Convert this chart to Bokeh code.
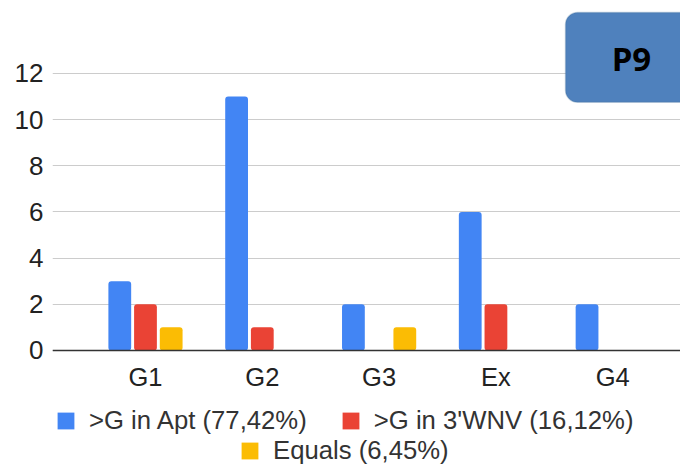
import numpy as np
from bokeh.plotting import figure
from bokeh.models import (Range1d, FixedTicker, Legend, LegendItem, Span,
                          BoxAnnotation, Label, ColumnDataSource)
from bokeh.core.properties import value
from bokeh.embed import file_html
from bokeh.resources import INLINE

# ---- data ----
categories = ["G1", "G2", "G3", "Ex", "G4"]
apt_values = [3, 11, 2, 6, 2]
wnv_values = [2, 1, 0, 2, 0]
equal_values = [1, 0, 1, 0, 0]
series_labels = [">G in Apt (77,42%)", ">G in 3'WNV (16,12%)", "Equals (6,45%)"]
y_ticks = [0, 2, 4, 6, 8, 10, 12]
badge_text = "P9"

colors = ["#4285F4", "#EA4335", "#FBBC04"]
FONT = "Liberation Sans"

idx = np.arange(len(categories))
offsets = [-0.22, 0.0, 0.22]
bar_w = 0.195

p = figure(width=680, height=466, output_backend="svg", toolbar_location=None,
           x_range=Range1d(-0.796, 4.58), y_range=Range1d(-5.03, 15.16),
           x_axis_location=None,
           min_border_left=52, min_border_right=0, min_border_top=0,
           min_border_bottom=0)
p.outline_line_color = None
p.background_fill_color = "white"
p.border_fill_color = "white"

renderers = []
for vals, off, col in zip([apt_values, wnv_values, equal_values], offsets, colors):
    r = p.vbar(x=idx + off, top=vals, width=bar_w, fill_color=col,
               line_color=None, border_radius=3)
    renderers.append(r)

# category labels along the zero baseline
cat_src = ColumnDataSource(dict(x=idx, y=[0] * len(categories), text=categories))
p.text(x="x", y="y", text="text", source=cat_src, text_align="center",
       text_baseline="middle", y_offset=27, text_font=value(FONT),
       text_font_size="25.5px", text_color="#222222")

# y axis
p.yaxis.ticker = FixedTicker(ticks=y_ticks)
p.yaxis.axis_line_color = None
p.yaxis.major_tick_line_color = None
p.yaxis.minor_tick_line_color = None
p.yaxis.major_label_text_font = FONT
p.yaxis.major_label_text_font_size = "26px"
p.yaxis.major_label_text_color = "#222222"
p.yaxis.major_label_standoff = 3

p.xgrid.grid_line_color = None
p.ygrid.ticker = FixedTicker(ticks=y_ticks)
p.ygrid.grid_line_color = "#cccccc"
p.ygrid.grid_line_width = 1

p.add_layout(Span(location=0, dimension="width", line_color="#333333",
                  line_width=1.5))

# badge
p.add_layout(BoxAnnotation(left=3.596, right=5.0, top=14.64, bottom=10.75,
                           fill_color="#4F81BD", fill_alpha=1.0,
                           line_color="#41719C", line_width=1.5,
                           border_radius=12))
p.add_layout(Label(x=4.16, y=12.65, text=badge_text, text_font="Open Sans",
                   text_font_style="bold", text_font_size="33px",
                   text_color="#000000", text_align="center",
                   text_baseline="middle"))

# legends
def make_legend(items, loc):
    lg = Legend(items=items, orientation="horizontal", location=loc,
                label_text_font=FONT, label_text_font_size="25.7px",
                label_text_color="#333333", glyph_width=21, glyph_height=21,
                label_standoff=13, spacing=33, padding=0, margin=0,
                border_line_color=None, background_fill_alpha=0)
    return lg

leg1 = make_legend([LegendItem(label=series_labels[0], renderers=[renderers[0]]),
                    LegendItem(label=series_labels[1], renderers=[renderers[1]])],
                   (3, 31))
leg2 = make_legend([LegendItem(label=series_labels[2], renderers=[renderers[2]])],
                   (187, 1))
p.add_layout(leg1)
p.add_layout(leg2)

open("out.html", "w").write(file_html(p, INLINE))
